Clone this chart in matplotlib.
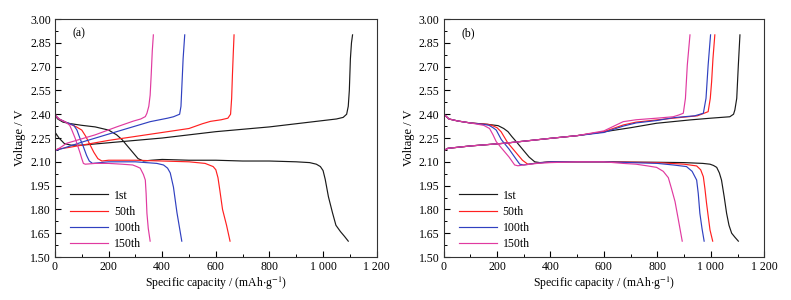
import matplotlib
matplotlib.use('Agg')
import matplotlib.pyplot as plt
from matplotlib.ticker import MultipleLocator

plt.rcParams['font.family'] = ['Liberation Serif', 'DejaVu Serif']
plt.rcParams['mathtext.fontset'] = 'stix'
plt.rcParams['font.size'] = 8

# ---- data: capacity (mAh/g) and voltage (V) ----
cycles = ['1st', '50th', '100th', '150th']
colors = ['#1a1a1a', '#ff2020', '#3040c0', '#e03aa0']

# panel (a) discharge
a_1st_dis_x = [0, 0, 2, 10, 30, 60, 100, 150, 200, 230, 250, 270, 290, 310, 330, 360, 400, 500, 600, 700, 800, 900, 950, 975, 990, 1000, 1008, 1020, 1035, 1048, 1065, 1080, 1094]
a_1st_dis_v = [2.55, 2.42, 2.39, 2.37, 2.35, 2.34, 2.33, 2.32, 2.30, 2.27, 2.24, 2.20, 2.16, 2.12, 2.105, 2.11, 2.115, 2.11, 2.11, 2.105, 2.105, 2.10, 2.095, 2.085, 2.07, 2.045, 1.99, 1.88, 1.78, 1.70, 1.66, 1.63, 1.60]
a_50_dis_x = [0, 0, 3, 15, 40, 80, 100, 115, 130, 145, 160, 175, 200, 300, 400, 500, 560, 590, 600, 608, 615, 625, 640, 653]
a_50_dis_v = [2.55, 2.42, 2.39, 2.37, 2.35, 2.32, 2.30, 2.26, 2.21, 2.16, 2.12, 2.105, 2.11, 2.11, 2.105, 2.10, 2.09, 2.07, 2.05, 2.00, 1.92, 1.80, 1.70, 1.60]
a_100_dis_x = [0, 0, 3, 15, 40, 70, 82, 95, 106, 118, 128, 140, 200, 300, 380, 405, 420, 430, 442, 455, 465, 473]
a_100_dis_v = [2.55, 2.42, 2.39, 2.37, 2.35, 2.33, 2.30, 2.24, 2.195, 2.14, 2.105, 2.09, 2.10, 2.10, 2.09, 2.08, 2.06, 2.03, 1.94, 1.78, 1.68, 1.60]
a_150_dis_x = [0, 0, 3, 15, 40, 55, 63, 75, 85, 94, 100, 106, 113, 150, 200, 250, 290, 305, 318, 330, 337, 340, 343, 348, 355]
a_150_dis_v = [2.55, 2.42, 2.39, 2.37, 2.35, 2.33, 2.30, 2.25, 2.20, 2.154, 2.12, 2.09, 2.085, 2.09, 2.09, 2.085, 2.08, 2.07, 2.06, 2.02, 1.985, 1.90, 1.776, 1.68, 1.60]

# panel (a) charge
a_1st_chg_x = [0, 3, 15, 35, 60, 100, 200, 300, 400, 500, 600, 700, 800, 900, 950, 1000, 1050, 1075, 1088, 1094, 1098, 1102, 1106, 1110]
a_1st_chg_v = [2.22, 2.28, 2.25, 2.215, 2.205, 2.205, 2.22, 2.235, 2.25, 2.27, 2.29, 2.305, 2.32, 2.34, 2.35, 2.36, 2.37, 2.38, 2.40, 2.45, 2.55, 2.75, 2.85, 2.90]
a_50_chg_x = [0, 10, 50, 100, 200, 300, 400, 500, 550, 580, 620, 645, 655, 659, 662, 665, 668]
a_50_chg_v = [2.17, 2.18, 2.19, 2.205, 2.235, 2.26, 2.285, 2.31, 2.34, 2.355, 2.365, 2.375, 2.40, 2.50, 2.65, 2.78, 2.90]
a_100_chg_x = [0, 30, 106, 230, 355, 420, 442, 465, 470, 474, 478, 484]
a_100_chg_v = [2.17, 2.185, 2.227, 2.29, 2.353, 2.375, 2.384, 2.40, 2.45, 2.60, 2.75, 2.90]
a_150_chg_x = [0, 0, 20, 44, 106, 150, 230, 293, 320, 337, 343, 350, 355, 359, 363, 367]
a_150_chg_v = [2.02, 2.17, 2.19, 2.217, 2.248, 2.27, 2.32, 2.357, 2.37, 2.385, 2.406, 2.45, 2.52, 2.65, 2.80, 2.90]

# panel (b) discharge
b_1st_dis_x = [0, 0, 4, 20, 54, 100, 166, 204, 225, 241, 255, 272, 300, 320, 341, 360, 400, 500, 600, 700, 800, 900, 970, 997, 1010, 1022, 1032, 1040, 1050, 1059, 1068, 1078, 1090, 1103]
b_1st_dis_v = [2.60, 2.42, 2.395, 2.37, 2.357, 2.345, 2.336, 2.328, 2.31, 2.29, 2.26, 2.227, 2.17, 2.13, 2.10, 2.095, 2.10, 2.10, 2.10, 2.098, 2.097, 2.095, 2.09, 2.085, 2.077, 2.065, 2.03, 1.985, 1.88, 1.776, 1.70, 1.65, 1.625, 1.60]
b_50_dis_x = [0, 0, 4, 20, 54, 100, 166, 180, 200, 215, 240, 270, 295, 315, 340, 400, 600, 800, 900, 947, 962, 972, 978, 984, 990, 997, 1007]
b_50_dis_v = [2.60, 2.42, 2.395, 2.37, 2.357, 2.345, 2.336, 2.33, 2.315, 2.29, 2.22, 2.16, 2.11, 2.085, 2.09, 2.10, 2.10, 2.095, 2.085, 2.074, 2.05, 2.006, 1.93, 1.839, 1.76, 1.67, 1.60]
b_100_dis_x = [0, 0, 4, 20, 54, 100, 150, 170, 185, 197, 216, 245, 270, 285, 300, 340, 400, 600, 700, 800, 860, 909, 930, 947, 953, 959, 967, 975]
b_100_dis_v = [2.60, 2.42, 2.395, 2.37, 2.357, 2.345, 2.336, 2.33, 2.315, 2.30, 2.24, 2.18, 2.12, 2.085, 2.08, 2.09, 2.10, 2.10, 2.095, 2.09, 2.08, 2.07, 2.04, 1.985, 1.90, 1.776, 1.68, 1.60]
b_150_dis_x = [0, 0, 4, 20, 54, 100, 150, 172, 185, 197, 215, 245, 266, 278, 300, 350, 400, 500, 600, 672, 720, 760, 797, 822, 841, 853, 866, 878, 893]
b_150_dis_v = [2.60, 2.42, 2.395, 2.37, 2.357, 2.345, 2.33, 2.31, 2.27, 2.227, 2.19, 2.13, 2.08, 2.075, 2.08, 2.09, 2.095, 2.10, 2.10, 2.09, 2.085, 2.075, 2.065, 2.04, 2.00, 1.93, 1.85, 1.74, 1.60]

# panel (b) charge
b_1st_chg_x = [0, 16, 100, 228, 300, 400, 500, 603, 700, 797, 922, 1000, 1071, 1085, 1090, 1097, 1103, 1109]
b_1st_chg_v = [2.17, 2.185, 2.20, 2.217, 2.23, 2.248, 2.265, 2.29, 2.315, 2.343, 2.364, 2.375, 2.384, 2.40, 2.427, 2.50, 2.71, 2.90]
b_50_chg_x = [0, 16, 100, 228, 300, 400, 500, 600, 672, 720, 797, 859, 950, 990, 998, 1003, 1008, 1015]
b_50_chg_v = [2.17, 2.185, 2.20, 2.217, 2.23, 2.248, 2.265, 2.29, 2.332, 2.35, 2.364, 2.375, 2.39, 2.416, 2.50, 2.605, 2.75, 2.90]
b_100_chg_x = [0, 16, 100, 228, 300, 400, 500, 600, 672, 720, 797, 859, 940, 972, 982, 990, 999]
b_100_chg_v = [2.17, 2.185, 2.20, 2.217, 2.23, 2.248, 2.265, 2.285, 2.325, 2.345, 2.36, 2.378, 2.39, 2.406, 2.50, 2.71, 2.90]
b_150_chg_x = [0, 0, 16, 100, 228, 300, 400, 500, 600, 672, 720, 797, 859, 880, 897, 905, 912, 922]
b_150_chg_v = [1.95, 2.17, 2.185, 2.20, 2.217, 2.23, 2.248, 2.265, 2.295, 2.353, 2.365, 2.375, 2.384, 2.395, 2.406, 2.50, 2.71, 2.90]

panels = {
    '(a)': ([(a_1st_dis_x, a_1st_dis_v), (a_50_dis_x, a_50_dis_v), (a_100_dis_x, a_100_dis_v), (a_150_dis_x, a_150_dis_v)],
            [(a_1st_chg_x, a_1st_chg_v), (a_50_chg_x, a_50_chg_v), (a_100_chg_x, a_100_chg_v), (a_150_chg_x, a_150_chg_v)]),
    '(b)': ([(b_1st_dis_x, b_1st_dis_v), (b_50_dis_x, b_50_dis_v), (b_100_dis_x, b_100_dis_v), (b_150_dis_x, b_150_dis_v)],
            [(b_1st_chg_x, b_1st_chg_v), (b_50_chg_x, b_50_chg_v), (b_100_chg_x, b_100_chg_v), (b_150_chg_x, b_150_chg_v)]),
}

xticks = [0, 200, 400, 600, 800, 1000, 1200]
xticklabels = ['0', '200', '400', '600', '800', '1 000', '1 200']
yticks = [1.50, 1.65, 1.80, 1.95, 2.10, 2.25, 2.40, 2.55, 2.70, 2.85, 3.00]

fig = plt.figure(figsize=(7.91, 3.00), dpi=100)
ax_a = fig.add_axes([0.0695, 0.1433, 0.4067, 0.7933])
ax_b = fig.add_axes([0.5608, 0.1433, 0.4054, 0.7933])

for ax, name in zip([ax_a, ax_b], panels):
    dis, chg = panels[name]
    for i in range(4):
        ax.plot(dis[i][0], dis[i][1], color=colors[i], lw=0.85, label=cycles[i])
        ax.plot(chg[i][0], chg[i][1], color=colors[i], lw=0.85)
    ax.set_xlim(0, 1200)
    ax.set_ylim(1.5, 3.0)
    ax.set_xticks(xticks)
    ax.set_xticklabels(xticklabels)
    ax.set_yticks(yticks)
    ax.set_yticklabels(['%.2f' % y for y in yticks])
    ax.xaxis.set_minor_locator(MultipleLocator(100))
    ax.yaxis.set_minor_locator(MultipleLocator(0.075))
    ax.tick_params(which='major', direction='in', length=4, width=0.8, labelsize=8.5, pad=3)
    ax.tick_params(which='minor', direction='in', length=2, width=0.7)
    for s in ax.spines.values():
        s.set_linewidth(0.8)
        s.set_color('#333333')
    ax.set_xlabel(r'Specific capacity / (mAh$\cdot$g$^{-1}$)', fontsize=8.5, labelpad=1)
    ax.set_ylabel('Voltage / V', fontsize=9, labelpad=3)
    ax.text(0.055, 0.94, name, transform=ax.transAxes, fontsize=8.5, va='center')
    ax.legend(loc='lower left', bbox_to_anchor=(0.015, -0.015), frameon=False, fontsize=8.5,
              handlelength=3.2, handletextpad=0.5, labelspacing=0.35)

fig.savefig('out.png', dpi=100)
